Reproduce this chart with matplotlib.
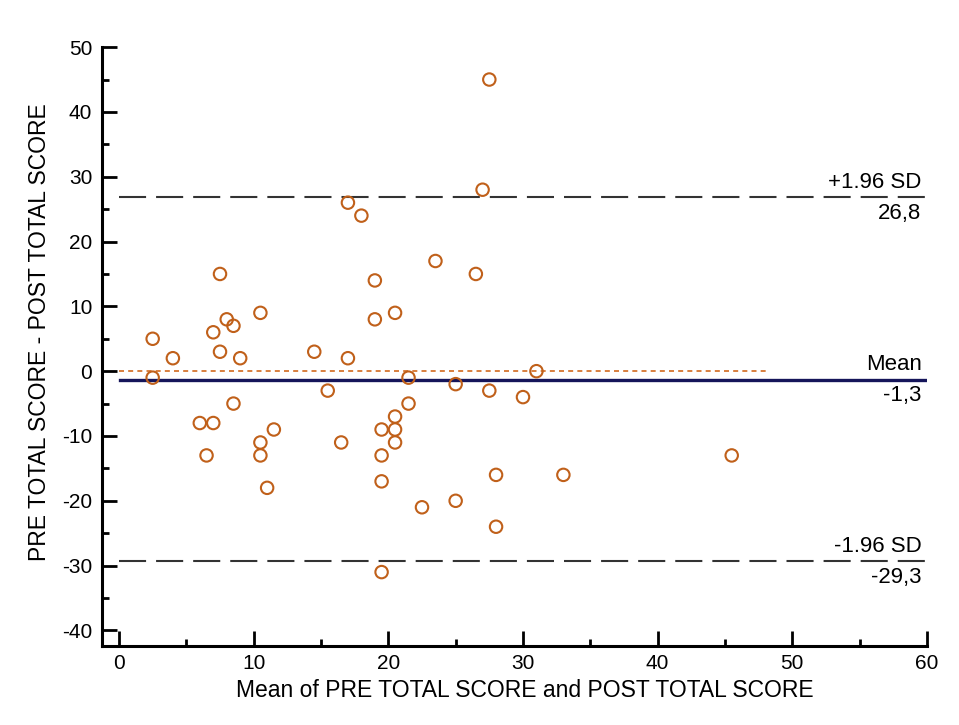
import matplotlib.pyplot as plt
from matplotlib.ticker import MultipleLocator

plt.rcParams['font.family'] = ['Liberation Sans', 'DejaVu Sans']
plt.rcParams['axes.unicode_minus'] = False

# Bland-Altman data: mean of the two scores and their difference
mean_scores = [2.5, 2.5, 4, 6, 6.5, 7, 7, 7.5, 7.5, 8, 8.5, 9, 8.5, 10.5, 10.5, 10.5, 11.5, 11,
               14.5, 15.5, 16.5, 17, 17, 18, 19, 19, 19.5, 19.5, 19.5, 19.5, 20.5, 20.5, 20.5,
               20.5, 21.5, 21.5, 22.5, 23.5, 25, 25, 26.5, 27, 27.5, 27.5, 28, 28, 30, 31, 33, 45.5]
diff_scores = [5, -1, 2, -8, -13, -8, 6, 15, 3, 8, 7, 2, -5, 9, -11, -13, -9, -18,
               3, -3, -11, 26, 2, 24, 14, 8, -9, -13, -17, -31, 9, -7, -9,
               -11, -1, -5, -21, 17, -2, -20, 15, 28, 45, -3, -16, -24, -4, 0, -16, -13]

mean_diff = -1.3
upper_loa = 26.8
lower_loa = -29.3
equality_end = 48.2

fig = plt.figure(figsize=(9.59, 7.25), dpi=100)
ax = fig.add_axes([0.1064, 0.109, 0.8602, 0.826])

ax.plot([0, equality_end], [0, 0], color='#d2691e', lw=1.2, ls=(0, (3, 2.5)), zorder=2)
ax.plot([0.1, 60], [mean_diff, mean_diff], color='#15155a', lw=2.4, zorder=2)
for v in (upper_loa, lower_loa):
    ax.plot([0, 60], [v, v], color='#333333', lw=1.5, ls=(0, (13, 4.8)), zorder=2)

ax.scatter(mean_scores, diff_scores, s=80, facecolors='none', edgecolors='#c0601a',
           linewidths=1.5, zorder=3)

labels = [(upper_loa, '+1.96 SD', '26,8'), (mean_diff, 'Mean', '-1,3'), (lower_loa, '-1.96 SD', '-29,3')]
for v, top, bottom in labels:
    ax.annotate(top, (59.6, v), xytext=(0, 3), textcoords='offset points',
                ha='right', va='bottom', fontsize=16)
    ax.annotate(bottom, (59.6, v), xytext=(0, -4), textcoords='offset points',
                ha='right', va='top', fontsize=16)

ax.set_xlim(-1.26, 60)
ax.set_ylim(-42.4, 50)
ax.xaxis.set_major_locator(MultipleLocator(10))
ax.xaxis.set_minor_locator(MultipleLocator(5))
ax.yaxis.set_major_locator(MultipleLocator(10))
ax.yaxis.set_minor_locator(MultipleLocator(5))
ax.tick_params(which='both', direction='in', width=2, labelsize=15)
ax.tick_params(which='major', length=11)
ax.tick_params(which='minor', length=5)
ax.tick_params(axis='y', which='major', pad=7)
ax.tick_params(axis='x', which='major', pad=6)

for side in ('top', 'right'):
    ax.spines[side].set_visible(False)
for side in ('left', 'bottom'):
    ax.spines[side].set_linewidth(2.2)

ax.set_xlabel('Mean of PRE TOTAL SCORE and POST TOTAL SCORE', fontsize=16.5, labelpad=4)
ax.set_ylabel('PRE TOTAL SCORE - POST TOTAL SCORE', fontsize=16.5, labelpad=8)
ax.xaxis.label.set_x(0.513)
ax.yaxis.label.set_y(0.524)

fig.savefig('out.png', dpi=100)
